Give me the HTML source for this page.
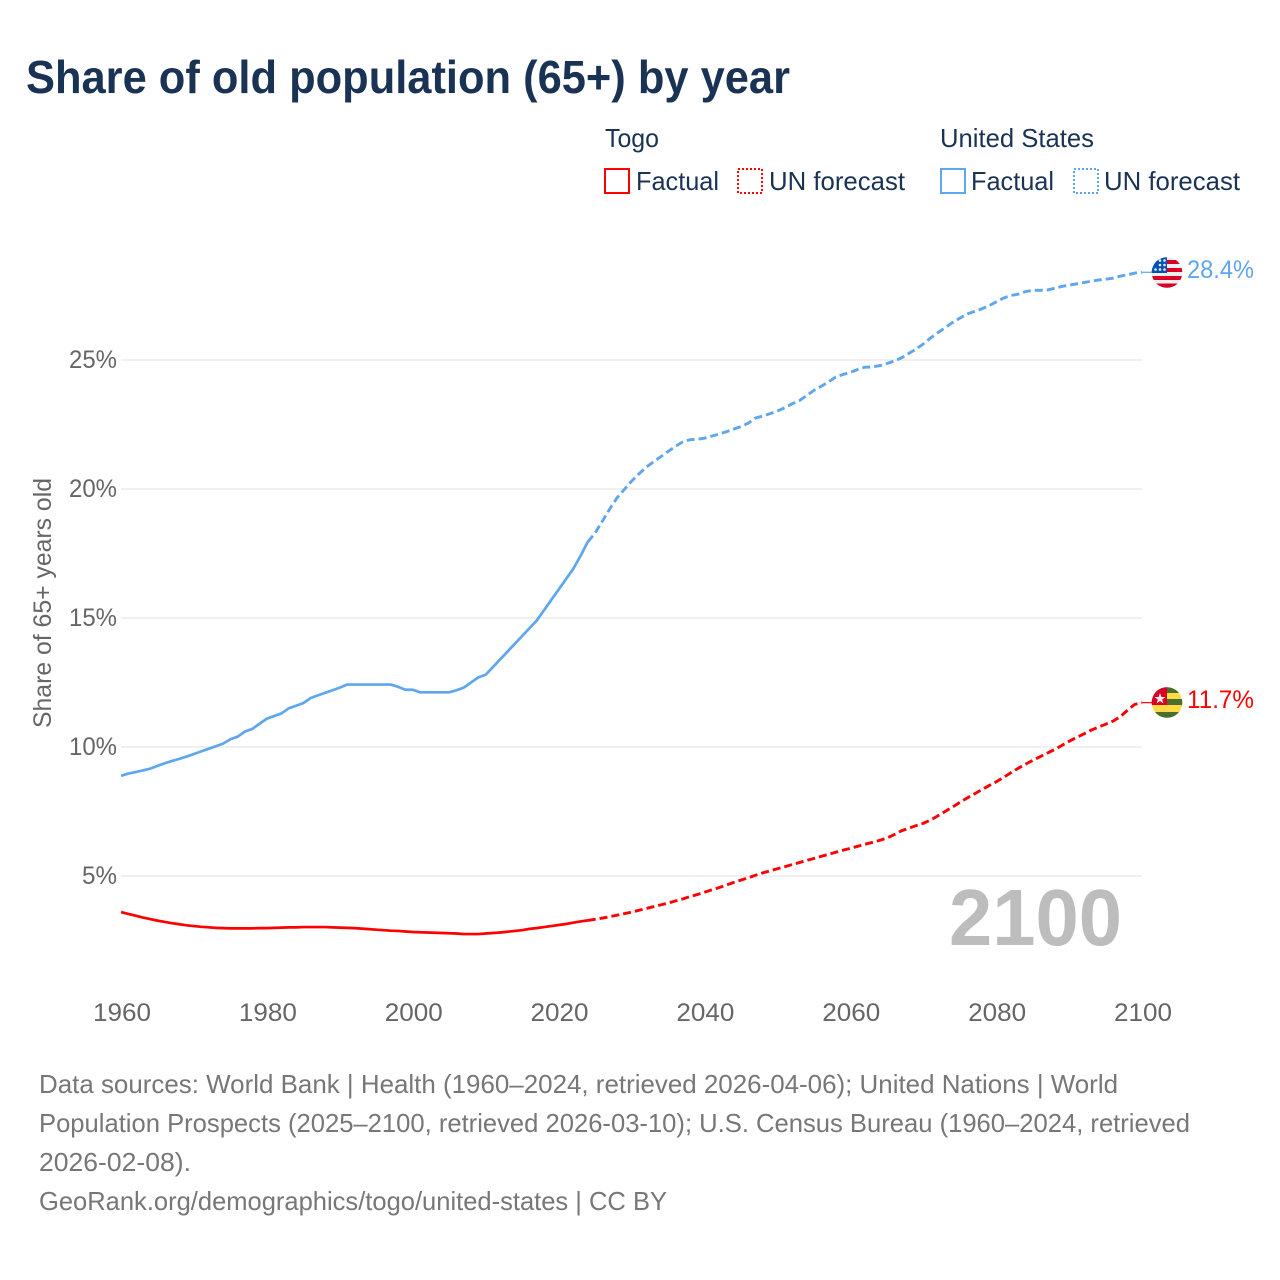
<!DOCTYPE html>
<html lang="en">
<head>
<meta charset="utf-8">
<title>Share of old population (65+) by year</title>
<style>
html,body{margin:0;padding:0;background:#fff;}
svg{display:block;font-family:"Liberation Sans",sans-serif;}
</style>
</head>
<body>
<svg id="chart" xmlns="http://www.w3.org/2000/svg" width="1280" height="1280" viewBox="0 0 1280 1280">
<defs>
<clipPath id="flag-us-clip"><circle cx="1167" cy="272.5" r="15.3"/></clipPath>
<clipPath id="flag-tg-clip"><circle cx="1167" cy="702.5" r="15.3"/></clipPath>
</defs>
<rect width="1280" height="1280" fill="#fff"/>
<text x="26" y="93" font-size="46" font-weight="700" fill="#1a3355" textLength="764" lengthAdjust="spacingAndGlyphs">Share of old population (65+) by year</text>

<g font-size="26" fill="#1a3355">
<text x="605" y="147" textLength="54" lengthAdjust="spacingAndGlyphs">Togo</text>
<text x="940" y="147" textLength="154" lengthAdjust="spacingAndGlyphs">United States</text>
<rect x="605" y="169" width="24" height="24" fill="none" stroke="#ff0000" stroke-width="2"/>
<text x="636" y="190" textLength="83" lengthAdjust="spacingAndGlyphs">Factual</text>
<rect x="738" y="169" width="24" height="24" fill="none" stroke="#ff0000" stroke-width="2" stroke-dasharray="2 2"/>
<text x="769" y="190" textLength="136" lengthAdjust="spacingAndGlyphs">UN forecast</text>
<rect x="941" y="169" width="24" height="24" fill="none" stroke="#5ea6ee" stroke-width="2"/>
<text x="971" y="190" textLength="83" lengthAdjust="spacingAndGlyphs">Factual</text>
<rect x="1074" y="169" width="24" height="24" fill="none" stroke="#5ea6ee" stroke-width="2" stroke-dasharray="2 2"/>
<text x="1104" y="190" textLength="136" lengthAdjust="spacingAndGlyphs">UN forecast</text>
</g>

<g id="grid"></g>
<g id="yticks"></g>
<g id="xticks"></g>
<text transform="translate(51,728) rotate(-90)" font-size="25" fill="#666" textLength="250" lengthAdjust="spacingAndGlyphs">Share of 65+ years old</text>

<text x="949" y="945" font-size="80" font-weight="700" fill="#bdbdbd" textLength="173" lengthAdjust="spacingAndGlyphs">2100</text>

<g id="series"></g>

<g clip-path="url(#flag-us-clip)">
<rect x="1151" y="257" width="32" height="32" fill="#eeeeee"/>
<rect x="1151" y="260" width="32" height="4" fill="#d80027"/>
<rect x="1151" y="268" width="32" height="4" fill="#d80027"/>
<rect x="1151" y="276" width="32" height="4" fill="#d80027"/>
<rect x="1151" y="283.5" width="32" height="4.5" fill="#d80027"/>
<rect x="1151" y="257" width="16" height="16" fill="#0052b4"/>
<circle cx="1155.5" cy="269.5" r="1.3" fill="#eee"/><circle cx="1160" cy="269.5" r="1.3" fill="#eee"/><circle cx="1164.5" cy="269.5" r="1.3" fill="#eee"/>
<circle cx="1160" cy="265" r="1.3" fill="#eee"/><circle cx="1164.5" cy="265" r="1.3" fill="#eee"/>
<circle cx="1164.5" cy="260.5" r="1.3" fill="#eee"/><circle cx="1160" cy="260.5" r="1.3" fill="#eee"/>
</g>
<text x="1187" y="278" font-size="25" fill="#5ea6ee" textLength="67" lengthAdjust="spacingAndGlyphs">28.4%</text>

<g clip-path="url(#flag-tg-clip)">
<rect x="1151" y="687" width="32" height="32" fill="#ffda44"/>
<rect x="1151" y="687" width="32" height="6" fill="#496e2d"/>
<rect x="1151" y="699" width="32" height="6" fill="#496e2d"/>
<rect x="1151" y="712" width="32" height="7" fill="#496e2d"/>
<rect x="1151" y="687" width="16" height="18" fill="#d80027"/>
<polygon points="1160,693 1161.4,697 1165.5,697 1162.2,699.5 1163.4,703.5 1160,701 1156.6,703.5 1157.8,699.5 1154.5,697 1158.6,697" fill="#eeeeee"/>
</g>
<text x="1187" y="708" font-size="25" fill="#ff0000" textLength="67" lengthAdjust="spacingAndGlyphs">11.7%</text>

<g font-size="26" fill="#777">
<text x="39" y="1093" textLength="1079" lengthAdjust="spacingAndGlyphs">Data sources: World Bank | Health (1960–2024, retrieved 2026-04-06); United Nations | World</text>
<text x="39" y="1132" textLength="1151" lengthAdjust="spacingAndGlyphs">Population Prospects (2025–2100, retrieved 2026-03-10); U.S. Census Bureau (1960–2024, retrieved</text>
<text x="39" y="1171" textLength="152" lengthAdjust="spacingAndGlyphs">2026-02-08).</text>
<text x="39" y="1210" textLength="628" lengthAdjust="spacingAndGlyphs">GeoRank.org/demographics/togo/united-states | CC BY</text>
</g>
</svg>
<script>
const yTickValues = [5, 10, 15, 20, 25];
const xTickYears = [1960, 1980, 2000, 2020, 2040, 2060, 2080, 2100];
const firstYear = 1960;
const lastFactualYear = 2024;

const usValues = [
8.88,8.97,9.03,9.09,9.16,9.27,9.37,9.46,9.54,9.63,
9.73,9.83,9.93,10.03,10.13,10.3,10.4,10.6,10.7,10.9,
11.1,11.2,11.3,11.5,11.6,11.7,11.9,12.0,12.1,12.2,
12.3,12.42,12.42,12.42,12.42,12.42,12.42,12.42,12.33,12.22,
12.22,12.12,12.12,12.12,12.12,12.12,12.2,12.3,12.5,12.7,
12.8,13.1,13.4,13.7,14.0,14.3,14.6,14.9,15.3,15.7,
16.1,16.5,16.9,17.4,17.95,
18.29,18.75,19.22,19.65,19.98,
20.3,20.58,20.84,21.05,21.25,21.45,21.65,21.82,21.91,21.93,
21.97,22.05,22.13,22.22,22.32,22.42,22.55,22.75,22.83,22.92,
23.02,23.15,23.3,23.42,23.62,23.82,23.98,24.15,24.34,24.44,
24.52,24.63,24.72,24.73,24.78,24.86,24.96,25.08,25.25,25.42,
25.62,25.85,26.06,26.25,26.45,26.62,26.78,26.88,26.98,27.1,
27.25,27.4,27.5,27.55,27.65,27.7,27.7,27.71,27.78,27.85,
27.9,27.95,28.0,28.05,28.1,28.13,28.17,28.25,28.3,28.37,
28.4];

const togoValues = [
3.6,3.53,3.46,3.39,3.33,3.27,3.22,3.17,3.13,3.09,
3.06,3.03,3.01,2.99,2.98,2.97,2.97,2.97,2.97,2.98,
2.98,2.99,3.0,3.01,3.01,3.02,3.02,3.02,3.02,3.01,
3.0,2.99,2.98,2.96,2.94,2.92,2.9,2.88,2.87,2.85,
2.83,2.82,2.81,2.8,2.79,2.78,2.77,2.75,2.75,2.75,
2.77,2.79,2.81,2.84,2.87,2.9,2.95,2.98,3.02,3.06,
3.1,3.14,3.19,3.24,3.28,
3.32,3.37,3.42,3.48,3.54,
3.6,3.67,3.74,3.81,3.88,3.95,4.03,4.11,4.2,4.28,
4.37,4.46,4.55,4.65,4.75,4.84,4.93,5.03,5.12,5.2,
5.28,5.36,5.44,5.52,5.6,5.68,5.76,5.84,5.92,6.0,
6.07,6.15,6.23,6.3,6.38,6.47,6.6,6.75,6.85,6.95,
7.04,7.17,7.33,7.5,7.67,7.85,8.02,8.18,8.34,8.5,
8.65,8.82,9.0,9.17,9.33,9.48,9.62,9.76,9.9,10.06,
10.22,10.37,10.5,10.65,10.77,10.88,11.0,11.17,11.42,11.65,
11.72];

const NS = 'http://www.w3.org/2000/svg';
function xScale(year) { return 121 + (year - 1960) * (1142 - 121) / 140; }
function yScale(v) { return 876 - (v - 5) * (876 - 360) / 20; }

const grid = document.getElementById('grid');
const yticks = document.getElementById('yticks');
const xticks = document.getElementById('xticks');
const series = document.getElementById('series');

yTickValues.forEach(function (v) {
  const line = document.createElementNS(NS, 'line');
  
  
  line.setAttribute('x1', xScale(1960));
  line.setAttribute('x2', xScale(2100));
  line.setAttribute('y1', yScale(v));
  line.setAttribute('y2', yScale(v));
  line.setAttribute('stroke', '#ececec');
  line.setAttribute('stroke-width', '1.5');
  grid.appendChild(line);
  const t = document.createElementNS(NS, 'text');
  
  
  t.setAttribute('x', 117);
  t.setAttribute('y', yScale(v) + 8);
  t.setAttribute('text-anchor', 'end');
  t.setAttribute('font-size', '25');
  t.setAttribute('fill', '#666');
  t.setAttribute('textLength', v < 10 ? '35' : '48');
  t.setAttribute('lengthAdjust', 'spacingAndGlyphs');
  t.textContent = v + '%';
  yticks.appendChild(t);
});

xTickYears.forEach(function (y) {
  const t = document.createElementNS(NS, 'text');
  
  
  t.setAttribute('x', xScale(y) + 1);
  t.setAttribute('y', 1021);
  t.setAttribute('text-anchor', 'middle');
  t.setAttribute('font-size', '25');
  t.setAttribute('fill', '#666');
  t.setAttribute('textLength', '58');
  t.setAttribute('lengthAdjust', 'spacingAndGlyphs');
  t.textContent = y;
  xticks.appendChild(t);
});

function pathFor(values, from, to) {
  let d = '';
  for (let i = from; i <= to && i < values.length; i++) {
    d += (d ? 'L' : 'M') + xScale(firstYear + i).toFixed(2) + ' ' + yScale(values[i]).toFixed(2);
  }
  return d;
}

function drawSeries(values, color, label) {
  const split = lastFactualYear - firstYear;
  const solid = document.createElementNS(NS, 'path');
  
  
  solid.setAttribute('d', pathFor(values, 0, split));
  solid.setAttribute('fill', 'none');
  solid.setAttribute('stroke', color);
  solid.setAttribute('stroke-width', '2.7');
  solid.setAttribute('stroke-linejoin', 'round');
  series.appendChild(solid);
  const dashed = document.createElementNS(NS, 'path');
  
  
  dashed.setAttribute('d', pathFor(values, split, values.length - 1));
  dashed.setAttribute('fill', 'none');
  dashed.setAttribute('stroke', color);
  dashed.setAttribute('stroke-width', '2.9');
  dashed.setAttribute('stroke-dasharray', '8 4');
  series.appendChild(dashed);
  const connector = document.createElementNS(NS, 'line');
  
  
  connector.setAttribute('x1', xScale(2100));
  connector.setAttribute('x2', xScale(2100) + 12);
  connector.setAttribute('y1', yScale(values[values.length - 1]));
  connector.setAttribute('y2', yScale(values[values.length - 1]));
  connector.setAttribute('stroke', color);
  connector.setAttribute('stroke-width', '1.2');
  series.appendChild(connector);
}

drawSeries(usValues, '#5ea6ee', 'united-states');
drawSeries(togoValues, '#ff0000', 'togo');
</script>
</body>
</html>
